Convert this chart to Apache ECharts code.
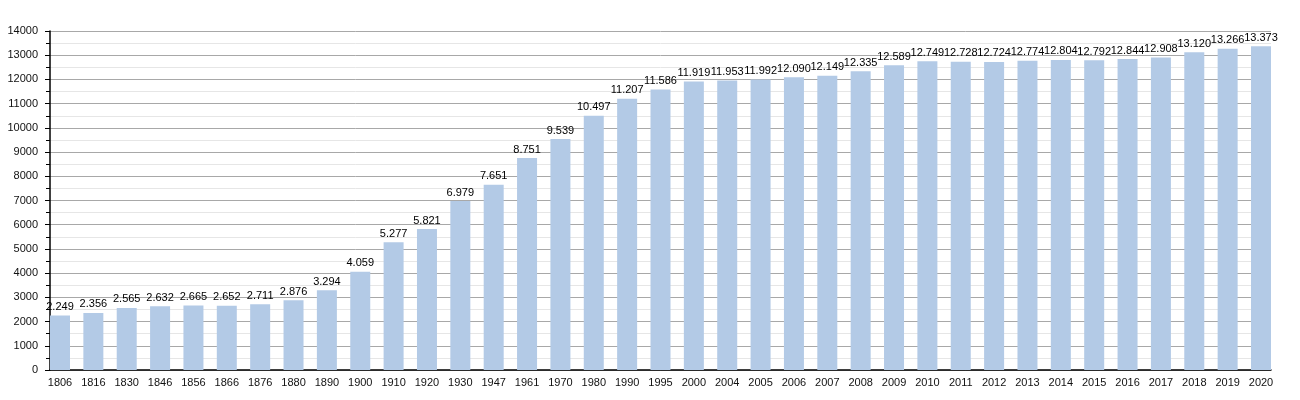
<!DOCTYPE html>
<html>
<head>
<meta charset="utf-8">
<script src="https://cdn.jsdelivr.net/npm/echarts@6/dist/echarts.min.js"></script>
<style>html,body{margin:0;padding:0;background:#fff;}#c{width:1300px;height:400px;}</style>
</head>
<body>
<div id="c"></div>
<script>
const years = ['1806','1816','1830','1846','1856','1866','1876','1880','1890','1900','1910','1920','1930','1947','1961','1970','1980','1990','1995','2000','2004','2005','2006','2007','2008','2009','2010','2011','2012','2013','2014','2015','2016','2017','2018','2019','2020'];
const population = [2249,2356,2565,2632,2665,2652,2711,2876,3294,4059,5277,5821,6979,7651,8751,9539,10497,11207,11586,11919,11953,11992,12090,12149,12335,12589,12749,12728,12724,12774,12804,12792,12844,12908,13120,13266,13373];
const yTicks = [0,1000,2000,3000,4000,5000,6000,7000,8000,9000,10000,11000,12000,13000,14000];

const fmt = v => String(v).replace(/\B(?=(\d{3})+(?!\d))/g, '.');
const chart = echarts.init(document.getElementById('c'));
const barPx = 20, unitPx = 1221 / (years.length - 1 + 0.6);
const half = (barPx / 2) / unitPx;
chart.setOption({
  animation: false,
  grid: { left: 50, right: 29, top: 31, bottom: 30, containLabel: false, outerBoundsMode: 'none' },
  textStyle: { fontFamily: 'Liberation Sans' },
  xAxis: {
    type: 'value',
    min: -half,
    max: years.length - 1 + half,
    axisLine: { show: true, onZero: false, lineStyle: { color: '#000', width: 1.5 } },
    axisTick: { show: false },
    splitLine: { show: false },
    axisLabel: {
      customValues: years.map((y, i) => i),
      formatter: v => years[Math.round(v)],
      color: '#111', fontSize: 11, margin: 7, fontFamily: 'Liberation Sans'
    }
  },
  yAxis: {
    type: 'value',
    min: yTicks[0], max: yTicks[yTicks.length - 1], interval: 1000,
    axisLine: { show: true, onZero: false, lineStyle: { color: '#000', width: 1.5 } },
    axisTick: { show: true, length: 5, lineStyle: { color: '#000' } },
    minorTick: { show: true, splitNumber: 2, length: 4, lineStyle: { color: '#000' } },
    splitLine: { show: true, lineStyle: { color: '#a8a8a8', width: 1 } },
    minorSplitLine: { show: true, lineStyle: { color: '#e6e6e6', width: 1 } },
    axisLabel: { color: '#111', fontSize: 11, margin: 12, fontFamily: 'Liberation Sans', formatter: v => String(v) }
  },
  series: [{
    type: 'bar',
    barWidth: barPx,
    data: population.map((v, i) => [i, v]),
    itemStyle: { color: '#b3cae6' },
    label: {
      show: true, position: 'top', distance: 3,
      formatter: p => fmt(p.value[1]),
      color: '#000', fontSize: 11, fontFamily: 'Liberation Sans'
    }
  }]
});
</script>
</body>
</html>
